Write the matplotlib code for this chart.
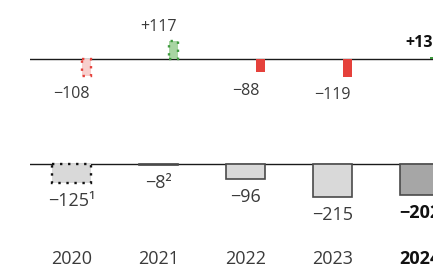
import matplotlib
matplotlib.use("Agg")
import matplotlib.pyplot as plt
from matplotlib.transforms import blended_transform_factory

plt.rcParams['font.family'] = ['Open Sans', 'DejaVu Sans']

years = ["2020", "2021", "2022", "2023", "2024"]
change_values = [-108, 117, -88, -119, 13]
change_labels = ["\u2212108", "+117", "\u221288", "\u2212119", "+13"]
total_values = [-125, -8, -96, -215, -202]
total_labels = ["\u2212125\u00b9", "\u22128\u00b2", "\u221296", "\u2212215", "\u2212202"]
bold_flags = [False, False, False, False, True]
dotted_flags = [True, True, False, False, False]

W, H = 433, 264
fig = plt.figure(figsize=(W / 100, H / 100), dpi=100)

scale = 0.153  # px per unit
top_ax = fig.add_axes([30 / W, 134 / H, 1 - 30 / W, 130 / H])
bot_ax = fig.add_axes([30 / W, 0, 1 - 30 / W, 134 / H])

xlim = (-0.477, 4.155)
for ax in (top_ax, bot_ax):
    ax.set_xlim(*xlim)
    ax.axis('off')
    ax.axhline(0, color='#1a1a1a', lw=1.0, zorder=1)

top_ax.set_ylim(-71 / scale, (130 - 71) / scale)
bot_ax.set_ylim(-100 / scale, 34 / scale)

text_color = '#3a3a3a'
wide = 0.448
narrow = 0.1
offset = wide / 2 - narrow / 2

for i, (v, lab) in enumerate(zip(change_values, change_labels)):
    pos = v >= 0
    if dotted_flags[i]:
        face = '#a8d5a2' if pos else '#f7cfcd'
        edge = '#3f9a3f' if pos else '#e5413b'
        top_ax.bar(i + offset, v, width=narrow, color=face, edgecolor=edge,
                   linestyle=(0, (1, 2.4)), lw=1.7, zorder=2)
    else:
        col = '#3f9a3f' if pos else '#e5413b'
        top_ax.bar(i + offset, v, width=narrow, color=col, lw=0, zorder=2)
    top_ax.annotate(lab, (i, v), xytext=(0, 7.5 if pos else -16), textcoords='offset points',
                    ha='center', va='baseline', fontsize=11.5,
                    color='#111111' if bold_flags[i] else text_color,
                    fontweight='bold' if bold_flags[i] else 'normal')

for i, (v, lab) in enumerate(zip(total_values, total_labels)):
    if dotted_flags[i] and i == 0:
        bot_ax.bar(i, v, width=wide, color='#d9d9d9', edgecolor='#111111',
                   linestyle=(0, (1, 2.4)), lw=1.7, zorder=2)
    else:
        face = '#a6a6a6' if bold_flags[i] else '#d9d9d9'
        bot_ax.bar(i, v, width=wide, color=face, edgecolor='#4a4a4a', lw=1.2, zorder=2)
    bot_ax.annotate(lab, (i, v), xytext=(0, -16.5), textcoords='offset points',
                    ha='center', va='baseline', fontsize=13,
                    color='#111111' if bold_flags[i] else text_color,
                    fontweight='bold' if bold_flags[i] else 'normal')

trans = blended_transform_factory(bot_ax.transData, bot_ax.transAxes)
for i, y in enumerate(years):
    bot_ax.text(i, 0.5 / 134, y, transform=trans, ha='center', va='baseline', fontsize=13,
                color='#111111' if bold_flags[i] else text_color,
                fontweight='bold' if bold_flags[i] else 'normal')

fig.savefig("out.png", dpi=100)
